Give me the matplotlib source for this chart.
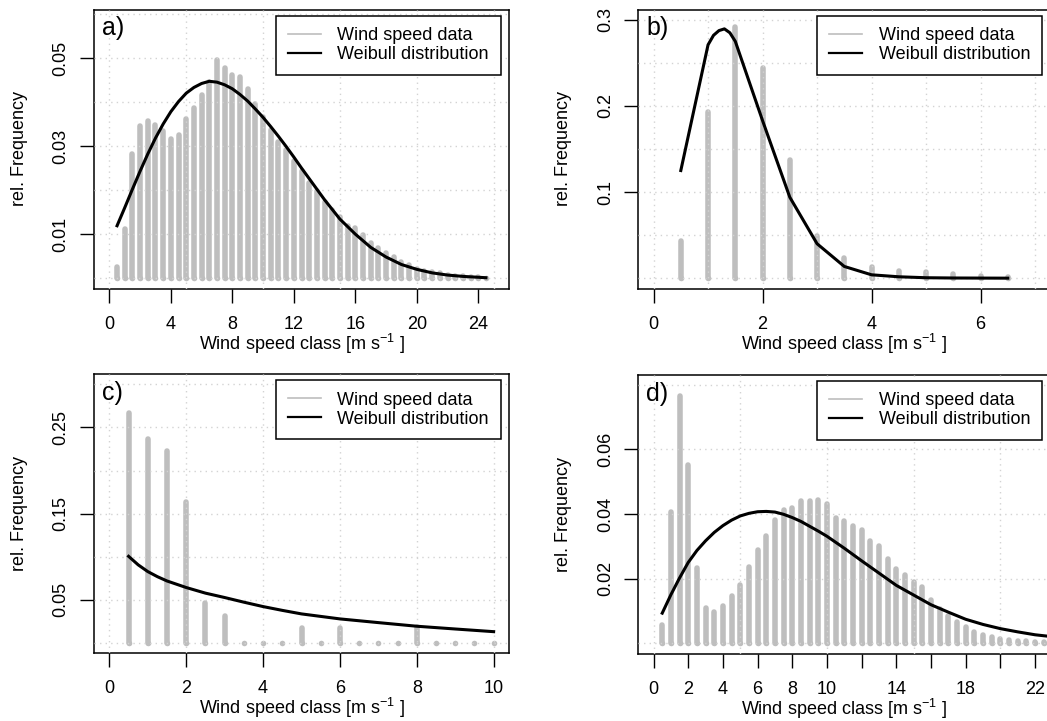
import matplotlib
matplotlib.use("Agg")
import matplotlib.pyplot as plt
from matplotlib.lines import Line2D
import numpy as np

plt.rcParams['font.family'] = ['Liberation Sans', 'DejaVu Sans']
plt.rcParams['mathtext.fontset'] = 'custom'
plt.rcParams['mathtext.rm'] = 'Liberation Sans'
plt.rcParams['mathtext.it'] = 'Liberation Sans:italic'
plt.rcParams['mathtext.bf'] = 'Liberation Sans:bold'
plt.rcParams['mathtext.default'] = 'regular'

# ---------------- data ----------------
# panel a
a_speed = [0.5, 1.0, 1.5, 2.0, 2.5, 3.0, 3.5, 4.0, 4.5, 5.0, 5.5, 6.0, 6.5, 7.0, 7.5, 8.0,
           8.5, 9.0, 9.5, 10.0, 10.5, 11.0, 11.5, 12.0, 12.5, 13.0, 13.5, 14.0, 14.5, 15.0,
           15.5, 16.0, 16.5, 17.0, 17.5, 18.0, 18.5, 19.0, 19.5, 20.0, 20.5, 21.0, 21.5,
           22.0, 22.5, 23.0, 23.5, 24.0, 24.5]
a_freq = [0.0025, 0.0112, 0.0282, 0.0345, 0.0356, 0.0348, 0.0333, 0.0317, 0.0326, 0.0361,
          0.0386, 0.0415, 0.0445, 0.0496, 0.0478, 0.0461, 0.0457, 0.0430, 0.0395, 0.0367,
          0.0336, 0.0309, 0.0290, 0.0266, 0.0243, 0.0216, 0.0198, 0.0173, 0.0155, 0.0138,
          0.0118, 0.0114, 0.0099, 0.0079, 0.0068, 0.0058, 0.0048, 0.0037, 0.0029, 0.0021,
          0.0017, 0.0013, 0.0011, 0.0008, 0.0005, 0.0004, 0.0003, 0.0002, 0.0001]
a_fit_x = [0.5, 1, 1.5, 2, 2.5, 3, 3.5, 4, 4.5, 5, 5.5, 6, 6.5, 7, 7.5, 8, 8.5, 9, 9.5, 10,
           10.5, 11, 11.5, 12, 12.5, 13, 13.5, 14, 14.5, 15, 16, 17, 18, 19, 20, 21, 22, 23,
           24, 24.5]
a_fit_y = [0.0119, 0.0160, 0.0202, 0.0243, 0.0282, 0.0318, 0.0350, 0.0378, 0.0401, 0.0420,
           0.0433, 0.0442, 0.0447, 0.0445, 0.0439, 0.0430, 0.0417, 0.0402, 0.0384, 0.0365,
           0.0344, 0.0322, 0.0299, 0.0275, 0.0250, 0.0226, 0.0202, 0.0178, 0.0156, 0.0134,
           0.0100, 0.0070, 0.0048, 0.0031, 0.0020, 0.0012, 0.0007, 0.0004, 0.0002, 0.0001]

# panel b
b_speed = [0.5, 1.0, 1.5, 2.0, 2.5, 3.0, 3.5, 4.0, 4.5, 5.0, 5.5, 6.0, 6.5]
b_freq = [0.0435, 0.193, 0.292, 0.2435, 0.1375, 0.049, 0.024, 0.013, 0.0085, 0.0066,
          0.0047, 0.003, 0.001]
b_fit_x = [0.5, 1.0, 1.1, 1.2, 1.3, 1.4, 1.5, 2.0, 2.5, 3.0, 3.5, 4.0, 4.5, 5.0, 5.5, 6.0, 6.5]
b_fit_y = [0.125, 0.271, 0.282, 0.2875, 0.2895, 0.285, 0.275, 0.183, 0.094, 0.0400, 0.0136,
           0.0039, 0.0016, 0.0005, 0.0002, 0.0001, 0.0]

# panel c
c_speed = [0.5, 1.0, 1.5, 2.0, 2.5, 3.0, 3.5, 4.0, 4.5, 5.0, 5.5, 6.0, 6.5, 7.0, 7.5, 8.0,
           8.5, 9.0, 9.5, 10.0]
c_freq = [0.2667, 0.2371, 0.2224, 0.1637, 0.0461, 0.0318, 0.0, 0.0, 0.0, 0.017, 0.0, 0.017,
          0.0, 0.0, 0.0, 0.019, 0.0, 0.0, 0.0, 0.0]
c_fit_x = [0.5, 0.75, 1.0, 1.25, 1.5, 2.0, 2.5, 3.0, 3.5, 4.0, 4.5, 5.0, 6.0, 7.0, 8.0, 9.0,
           10.0]
c_fit_y = [0.1005, 0.0906, 0.0828, 0.0769, 0.0719, 0.0643, 0.0578, 0.0527, 0.0473, 0.0422,
           0.0378, 0.0337, 0.0279, 0.0236, 0.0194, 0.0162, 0.0131]

# panel d
d_speed = [0.5, 1.0, 1.5, 2.0, 2.5, 3.0, 3.5, 4.0, 4.5, 5.0, 5.5, 6.0, 6.5, 7.0, 7.5, 8.0,
           8.5, 9.0, 9.5, 10.0, 10.5, 11.0, 11.5, 12.0, 12.5, 13.0, 13.5, 14.0, 14.5, 15.0,
           15.5, 16.0, 16.5, 17.0, 17.5, 18.0, 18.5, 19.0, 19.5, 20.0, 20.5, 21.0, 21.5,
           22.0, 22.5, 23.0, 23.5, 24.0]
d_freq = [0.0056, 0.0407, 0.0766, 0.0553, 0.0233, 0.0109, 0.0098, 0.0115, 0.0146, 0.0181,
          0.0237, 0.0288, 0.0332, 0.0380, 0.0411, 0.0420, 0.0440, 0.0440, 0.0443, 0.0432,
          0.0388, 0.0378, 0.0363, 0.0351, 0.0316, 0.0301, 0.0260, 0.0231, 0.0212, 0.0190,
          0.0174, 0.0135, 0.0107, 0.0083, 0.0067, 0.0050, 0.0036, 0.0024, 0.0020, 0.0014,
          0.0010, 0.0008, 0.0006, 0.0005, 0.0004, 0.0003, 0.0002, 0.0002]
d_fit_x = [0.5, 1, 1.5, 2, 2.5, 3, 3.5, 4, 4.5, 5, 5.5, 6, 6.5, 7, 7.5, 8, 8.5, 9, 9.5, 10,
           11, 12, 13, 14, 15, 16, 17, 18, 19, 20, 21, 22, 23, 24]
d_fit_y = [0.0093, 0.0150, 0.0202, 0.0250, 0.0287, 0.0317, 0.0343, 0.0364, 0.0381, 0.0394,
           0.0402, 0.0407, 0.0408, 0.0406, 0.0399, 0.0389, 0.0377, 0.0362, 0.0347, 0.0331,
           0.0294, 0.0255, 0.0217, 0.0179, 0.0149, 0.0119, 0.0096, 0.0074, 0.0058, 0.0045,
           0.0035, 0.0026, 0.0020, 0.0015]

panel_labels = ["a)", "b)", "c)", "d)"]
legend_labels = ["Wind speed data", "Weibull distribution"]
xlabel_text = r"Wind speed class [m s$^{-1}$ ]"
ylabel_text = "rel. Frequency"

# axis specs
a_xticks = [0, 4, 8, 12, 16, 20, 24]
a_yticks = [0.01, 0.03, 0.05]
a_xgrid = [0, 5, 10, 15, 20, 25]
a_ygrid = [0, 0.01, 0.02, 0.03, 0.04, 0.05, 0.06]

b_xticks = [0, 2, 4, 6]
b_yticks = [0.1, 0.2, 0.3]
b_xgrid = [0, 1, 2, 3, 4, 5, 6, 7]
b_ygrid = [0, 0.05, 0.1, 0.15, 0.2, 0.25, 0.3]

c_xticks = [0, 2, 4, 6, 8, 10]
c_yticks = [0.05, 0.15, 0.25]
c_xgrid = [0, 2, 4, 6, 8, 10]
c_ygrid = [0, 0.05, 0.1, 0.15, 0.2, 0.25, 0.3]

d_xticks = [0, 2, 4, 6, 8, 10, 12, 14, 16, 18, 20, 22]
d_xticklabels = ["0", "2", "4", "6", "8", "10", "", "14", "", "18", "", "22"]
d_yticks = [0.02, 0.04, 0.06]
d_ygrid = [0, 0.02, 0.04, 0.06, 0.08]
d_xgrid = [0, 5, 10, 15, 20]

# ---------------- figure ----------------
W, H = 1047, 721
fig = plt.figure(figsize=(W / 100, H / 100), dpi=100)


def add_px_axes(left, top, width, height):
    return fig.add_axes([left / W, 1 - (top + height) / H, width / W, height / H])


BAR_COLOR = "#bebebe"
GRID_COLOR = "#d3d3d3"
FS = 13


def draw_panel(ax, sp, fr, fx, fy, xlim, ylim, xticks, yticks, xgrid, ygrid, label,
               xticklabels=None, width_px=415):
    ax.vlines(sp, 0, fr, colors=BAR_COLOR, linewidth=4.0, capstyle="round", zorder=2)
    ax.plot(sp, np.zeros(len(sp)), "o", color=BAR_COLOR, ms=4.0, mew=0, zorder=2)
    for gx in xgrid:
        ax.axvline(gx, color=GRID_COLOR, lw=1.0, ls=(0, (1, 3)), zorder=3)
    for gy in ygrid:
        ax.axhline(gy, color=GRID_COLOR, lw=1.0, ls=(0, (1, 3)), zorder=3)
    ax.plot(fx, fy, color="black", lw=2.2, solid_joinstyle="round", zorder=4)
    ax.set_xlim(*xlim)
    ax.set_ylim(*ylim)
    ax.set_xticks(xticks)
    if xticklabels is not None:
        ax.set_xticklabels(xticklabels)
    ax.set_yticks(yticks)
    ax.set_yticklabels(["%g" % v for v in yticks])
    for t in ax.get_yticklabels():
        t.set_rotation(90)
        t.set_va("center")
        t.set_ha("right")
    ax.tick_params(axis="x", direction="out", length=10, width=1.0, labelsize=FS, pad=9.5)
    ax.tick_params(axis="y", direction="out", length=10, width=1.0, labelsize=FS, pad=7.5)
    for s in ax.spines.values():
        s.set_linewidth(1.1)
        s.set_color("black")
    ax.set_xlabel(xlabel_text, fontsize=FS)
    ax.xaxis.set_label_coords(0.5, -43 / 279)
    ax.set_ylabel(ylabel_text, fontsize=FS)
    ax.yaxis.set_label_coords(-66 / width_px, 0.5)
    ax.text(8 / width_px, 1 - 7 / 279, label, transform=ax.transAxes, fontsize=18,
            ha="left", va="top", zorder=6)
    handles = [Line2D([], [], color=BAR_COLOR, lw=1.2),
               Line2D([], [], color="black", lw=1.6)]
    leg = ax.legend(handles, legend_labels, loc="upper right",
                    bbox_to_anchor=(1 - 8.5 / width_px, 1 - 6 / 279), borderaxespad=0,
                    fontsize=FS, handlelength=1.85, handletextpad=0.9, borderpad=0.65,
                    labelspacing=0.1, fancybox=False, framealpha=1, edgecolor="black")
    leg.get_frame().set_linewidth(1.1)
    leg.set_zorder(7)


ax_a = add_px_axes(94, 9.5, 415, 279)
draw_panel(ax_a, a_speed, a_freq, a_fit_x, a_fit_y, (-1, 26), (-0.00235, 0.0610),
           a_xticks, a_yticks, a_xgrid, a_ygrid, panel_labels[0], width_px=415)

ax_b = add_px_axes(638.3, 9.5, 412, 279)
draw_panel(ax_b, b_speed, b_freq, b_fit_x, b_fit_y, (-0.28, 7.28), (-0.012, 0.312),
           b_xticks, b_yticks, b_xgrid, b_ygrid, panel_labels[1], width_px=412)

ax_c = add_px_axes(94, 374, 415, 279.3)
draw_panel(ax_c, c_speed, c_freq, c_fit_x, c_fit_y, (-0.4, 10.4), (-0.012, 0.312),
           c_xticks, c_yticks, c_xgrid, c_ygrid, panel_labels[2], width_px=415)

ax_d = add_px_axes(638.3, 374.5, 412, 279)
draw_panel(ax_d, d_speed, d_freq, d_fit_x, d_fit_y, (-0.88, 22.88), (-0.0032, 0.0832),
           d_xticks, d_yticks, d_xgrid, d_ygrid, panel_labels[3],
           xticklabels=d_xticklabels, width_px=412)

fig.savefig("out.png", dpi=100)
